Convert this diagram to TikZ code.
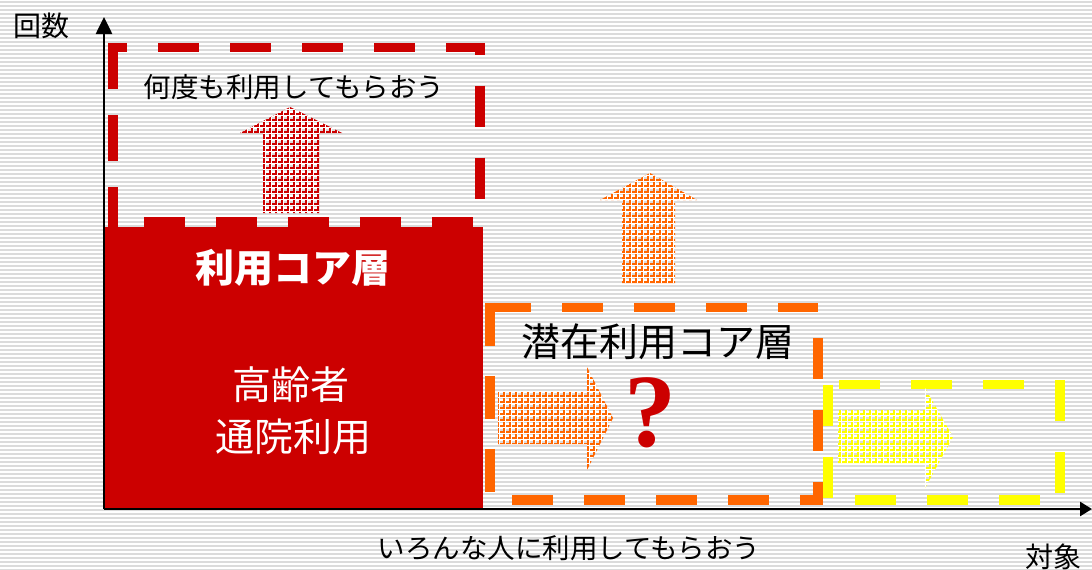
\documentclass[tikz,border=0pt]{standalone}
\usepackage{fontspec}
\setmainfont{Liberation Serif}
\newfontfamily\jp{Noto Sans CJK JP}
\usetikzlibrary{arrows.meta}
\definecolor{cred}{HTML}{CC0000}
\definecolor{corange}{HTML}{FF6600}
\definecolor{cyellow}{HTML}{FFFF00}
\tikzset{
  stripe/.style={black!14, line width=1.3pt},
  boxline/.style={line width=9.5pt, line cap=butt, line join=miter},
  axisline/.style={black, line width=2.6pt},
  lbl/.style={inner sep=0pt, anchor=center, font=\jp},
}
\newcommand\checkfill[3]{%
  \begin{scope}
    \clip #2;
    \fill[#1!25!white] #3;
    \draw[#1, line width=3.0pt] #3;
    \draw[white, line width=0.7pt, shift={(1.2,1.2)}] #3;
  \end{scope}}
\begin{document}
\begin{tikzpicture}[x=1pt,y=-1pt]
\useasboundingbox (0,0) rectangle (1092,570);
\fill[white] (0,0) rectangle (1092,570);
\foreach \y in {2,6,...,570} \draw[stripe] (0,\y) -- (1092,\y);

% core block
\fill[cred] (105,227) rectangle (483,508);

% red dashed box
\draw[boxline, cred, dash pattern=on 41pt off 31pt, dash phase=27pt]
  (113,47.5) -- (480,47.5) -- (480,222) -- (113,222);
\draw[boxline, cred, dash pattern=on 45.5pt off 26.5pt] (113,43) -- (113,226.75);

% orange dashed box
\draw[boxline, corange, dash pattern=on 41pt off 31pt] (490,307.5) -- (818,307.5);
\draw[boxline, corange, dash pattern=on 41pt off 31pt, dash phase=41.5pt] (818,307.5) -- (818,504.75);
\draw[boxline, corange, dash pattern=on 41pt off 31pt, dash phase=50pt] (490,500) -- (813,500);
\draw[boxline, corange, dash pattern=on 43pt off 30pt] (490,302.75) -- (490,500);

% yellow dashed box
\draw[boxline, cyellow, dash pattern=on 41pt off 31pt, dash phase=61pt] (828,384.5) -- (1060,384.5);
\draw[boxline, cyellow, dash pattern=on 41pt off 31pt] (1060,379.75) -- (1060,500);
\draw[boxline, cyellow, dash pattern=on 41pt off 31pt, dash phase=45pt] (828,500) -- (1060,500);
\draw[boxline, cyellow, dash pattern=on 41pt off 31pt] (828,384.5) -- (828,500);

% checkered arrows
\checkfill{cred}{(263,213) -- (263,133) -- (240,133) -- (290,107) -- (342,133) -- (319,133) -- (319,213) -- cycle}{(230,100) grid[step=6pt] (350,220)}
\checkfill{corange}{(622,283) -- (622,200) -- (600,200) -- (650,173) -- (697,200) -- (675,200) -- (675,283) -- cycle}{(590,165) grid[step=6pt] (710,290)}
\checkfill{corange}{(498,392) -- (587,392) -- (587,367) -- (613,418) -- (587,470) -- (587,444) -- (498,444) -- cycle}{(490,360) grid[step=6pt] (620,475)}
\checkfill{cyellow}{(838,410) -- (925,410) -- (925,388) -- (953,437) -- (925,488) -- (925,463) -- (838,463) -- cycle}{(830,380) grid[step=6pt] (960,495)}

% axes
\coordinate (O) at (104,509);
\coordinate (ytop) at (104,17);
\coordinate (xend) at (1092,509);
\draw[axisline, -{Triangle[length=17pt,width=16pt]}] (O) -- (ytop);
\draw[axisline, -{Triangle[length=12pt,width=14pt]}] (O) -- (xend);

% labels
\node[lbl, font=\jp\fontsize{28}{28}\selectfont] (ylab) at (41,26) {回数};
\node[lbl, font=\jp\fontsize{28}{28}\selectfont] (xlab) at (1053,557) {対象};
\node[lbl, font=\jp\fontsize{27.5}{27.5}\selectfont] (top) at (294,87) {何度も利用してもらおう};
\node[lbl, font=\jp\bfseries\fontsize{39}{39}\selectfont, text=white] (core) at (293,268) {利用コア層};
\node[lbl, font=\jp\fontsize{39}{39}\selectfont, text=white] (elder) at (291,385) {高齢者};
\node[lbl, font=\jp\fontsize{39}{39}\selectfont, text=white] (clinic) at (293,437) {通院利用};
\node[lbl, font=\jp\fontsize{39}{39}\selectfont] (latent) at (658,342) {潜在利用コア層};
\node[lbl, font=\jp\fontsize{27.5}{27.5}\selectfont] (wide) at (569,548) {いろんな人に利用してもらおう};
\node[lbl, font=\bfseries\fontsize{104}{104}\selectfont, text=cred] (q) at (650,412.5) {?};
\end{tikzpicture}
\end{document}
